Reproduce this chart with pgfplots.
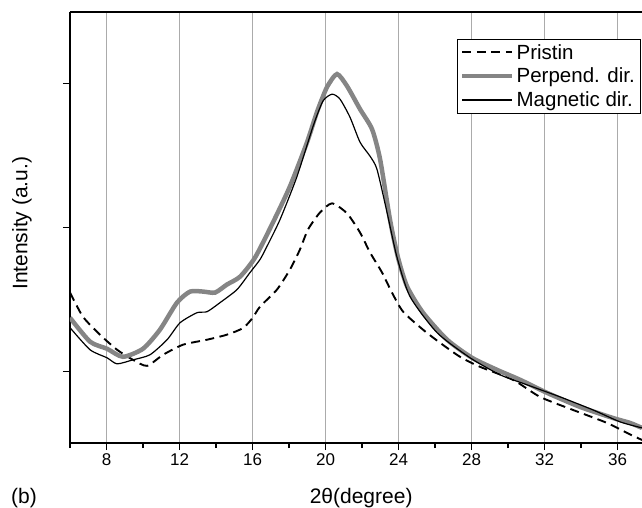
\documentclass[border=0pt]{standalone}
\usepackage{pgfplots}
\pgfplotsset{compat=1.18}
\usepackage{fontspec}
\setmainfont{Liberation Sans}

\definecolor{perpgray}{HTML}{858585}
\definecolor{gridgray}{HTML}{ABABAB}

\begin{document}
\begin{tikzpicture}
\begin{axis}[
  name=ax,
  scale only axis,
  width=572pt, height=431pt,
  xmin=6, xmax=37.34, ymin=0, ymax=3,
  axis lines*=left,
  axis line style={-, line width=1.2pt},
  tick align=outside,
  xtick={8,12,...,36},
  minor xtick={6,10,...,38},
  ytick={0.5,1.5,2.5},
  yticklabels={},
  major tick length=7pt, minor tick length=5pt,
  every tick/.style={black, line width=1.1pt},
  xmajorgrids,
  major grid style={gridgray, line width=0.8pt},
  tick label style={font=\fontsize{17}{20}\selectfont},
  /pgf/number format/assume math mode=true,
  xlabel={2θ(degree)},
  ylabel={Intensity (a.u.)},
  label style={font=\fontsize{21}{25}\selectfont},
  xlabel style={at={(axis description cs:0.509,-0.1276)}, anchor=center},
  ylabel style={at={(axis description cs:-0.0839,0.51)}, anchor=center},
  legend style={at={(axis description cs:1,1)}, anchor=north east,
    xshift=-2pt, yshift=-27pt, draw=black,
    font=\fontsize{20.5}{24}\selectfont, row sep=3.5pt,
    inner sep=3pt, cells={anchor=west}},
  legend image code/.code={\draw[#1] (0pt,0pt) -- (50pt,0pt);},
]
% Pristin
\addplot[black, line width=1.9pt, dash pattern=on 9pt off 5.5pt, smooth, tension=0.4] coordinates {
(6.00,1.047)(6.71,0.879)(7.64,0.754)(8.58,0.649)(9.45,0.579)(10.22,0.537)
(11.10,0.614)(12.19,0.684)(13.51,0.719)(14.60,0.754)(15.48,0.800)(16.00,0.870)
(16.41,0.949)(17.34,1.068)(18.05,1.207)(18.60,1.347)(19.04,1.486)(19.70,1.605)
(20.36,1.668)(21.18,1.598)(21.89,1.465)(22.44,1.326)(23.10,1.186)(23.64,1.047)
(24.25,0.914)(25.34,0.789)(26.27,0.698)(27.37,0.600)(28.47,0.530)(30.27,0.440)
(31.75,0.321)(33.56,0.230)(35.42,0.140)(36.52,0.070)(37.34,0.021)};
% Perpend. dir.
\addplot[perpgray, line width=4.5pt, smooth, tension=0.4] coordinates {
(6.00,0.872)(7.10,0.705)(8.03,0.656)(8.90,0.600)(10.00,0.656)(10.93,0.789)
(11.86,0.977)(12.58,1.054)(13.29,1.054)(13.95,1.047)(14.60,1.103)(15.32,1.158)
(16.14,1.291)(17.12,1.535)(18.05,1.786)(18.99,2.094)(19.53,2.303)(20.08,2.477)
(20.63,2.568)(21.18,2.484)(21.89,2.324)(22.55,2.184)(22.99,1.975)(23.53,1.556)
(23.97,1.291)(24.47,1.089)(25.34,0.907)(26.66,0.719)(28.03,0.593)(29.40,0.509)
(30.66,0.440)(32.14,0.349)(33.95,0.251)(35.75,0.174)(36.68,0.140)(37.34,0.105)};
% Magnetic dir.
\addplot[black, line width=1.2pt, smooth, tension=0.4] coordinates {
(6.00,0.803)(7.10,0.649)(8.03,0.593)(8.58,0.551)(9.45,0.579)(10.38,0.614)
(11.32,0.719)(12.03,0.837)(12.96,0.907)(13.51,0.914)(14.22,0.977)(15.15,1.068)
(15.86,1.186)(16.41,1.277)(16.79,1.368)(17.51,1.556)(18.44,1.856)(19.32,2.205)
(19.86,2.380)(20.36,2.428)(20.79,2.394)(21.34,2.268)(21.89,2.094)(22.44,1.996)
(22.82,1.905)(23.37,1.605)(23.92,1.291)(24.63,1.019)(26.11,0.768)(27.92,0.593)
(29.56,0.475)(31.04,0.405)(32.85,0.321)(34.66,0.230)(36.14,0.147)(37.34,0.105)};
\legend{Pristin, Perpend. dir., Magnetic dir.}
\end{axis}
\draw[black, line width=1.2pt] (ax.north west) -- (ax.north east);
\node[font=\fontsize{21}{25}\selectfont, anchor=center] at ([shift={(-46pt,-55pt)}]ax.south west) {(b)};
\pgfresetboundingbox
\path ([shift={(-70pt,-65pt)}]ax.south west) rectangle ([shift={(0pt,12pt)}]ax.north east);
\end{tikzpicture}
\end{document}
